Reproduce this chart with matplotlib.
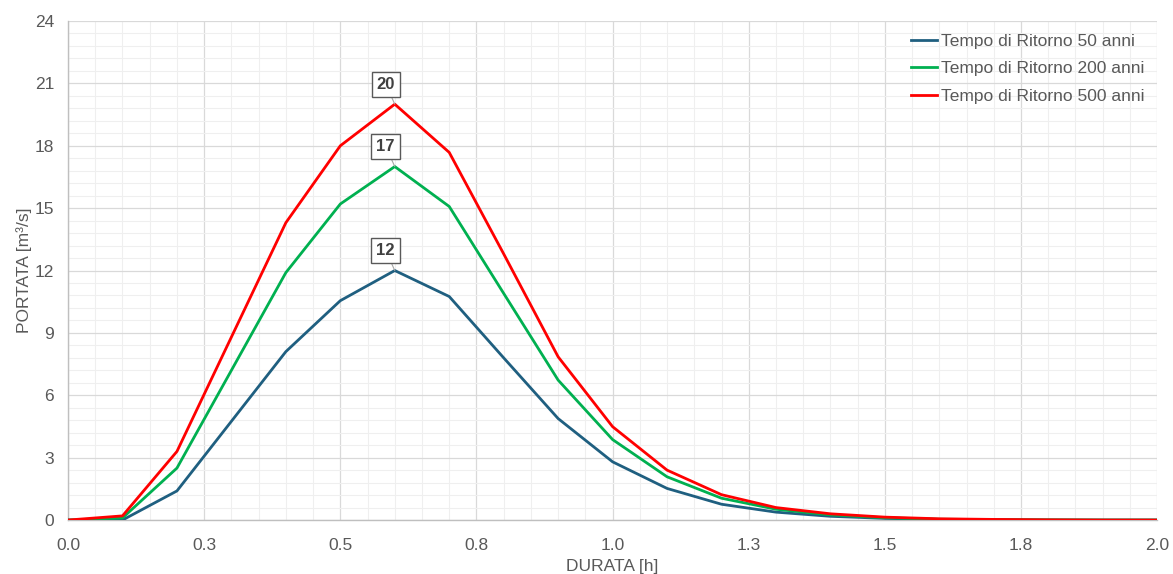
import numpy as np
import matplotlib
matplotlib.use("Agg")
import matplotlib.pyplot as plt
from matplotlib.ticker import MultipleLocator

plt.rcParams['font.family'] = ['Liberation Sans', 'DejaVu Sans']

# DURATA [h]
durata = [0.0, 0.1, 0.2, 0.3, 0.4, 0.5, 0.6, 0.7, 0.8, 0.9, 1.0,
          1.1, 1.2, 1.3, 1.4, 1.5, 1.6, 1.7, 1.8, 1.9, 2.0]

# PORTATA [m3/s] per tempo di ritorno
q_50 = [0.0, 0.0, 1.4, 4.75, 8.1, 10.55, 12.0, 10.75, 7.8, 4.88, 2.8,
        1.52, 0.76, 0.38, 0.18, 0.08, 0.03, 0.01, 0.0, 0.0, 0.0]
q_200 = [0.0, 0.1, 2.5, 7.2, 11.9, 15.2, 17.0, 15.08, 10.9, 6.73, 3.87,
         2.08, 1.05, 0.52, 0.25, 0.11, 0.04, 0.02, 0.01, 0.0, 0.0]
q_500 = [0.0, 0.2, 3.3, 8.8, 14.3, 18.0, 20.0, 17.68, 12.8, 7.85, 4.49,
         2.4, 1.22, 0.6, 0.3, 0.14, 0.06, 0.03, 0.01, 0.0, 0.0]

labels = ["Tempo di Ritorno 50 anni", "Tempo di Ritorno 200 anni",
          "Tempo di Ritorno 500 anni"]
colors = ["#1f5f80", "#00b050", "#ff0000"]

xticks = [0.0, 0.25, 0.5, 0.75, 1.0, 1.25, 1.5, 1.75, 2.0]
xticklabels = ["0.0", "0.3", "0.5", "0.8", "1.0", "1.3", "1.5", "1.8", "2.0"]

txt = "#595959"
fs = 12.5

fig = plt.figure(figsize=(11.73, 5.74), dpi=100)
ax = fig.add_axes([0.058, 0.094, 0.9285, 0.8694])

for q, lab, c in zip([q_50, q_200, q_500], labels, colors):
    ax.plot(durata, q, color=c, lw=2.0, label=lab, zorder=3)

# etichette sul picco
for q in [q_50, q_200, q_500]:
    i = int(np.argmax(q))
    ax.annotate(f"{q[i]:.0f}", xy=(durata[i], q[i]), xytext=(-6.5, 9),
                textcoords="offset points", ha="center", va="bottom",
                fontsize=12, fontweight="bold", color="#404040",
                bbox=dict(boxstyle="square,pad=0.3", fc="white", ec="#595959", lw=1),
                arrowprops=dict(arrowstyle="-", color="#a6a6a6", lw=0.8,
                                shrinkA=0, shrinkB=0),
                zorder=5)

ax.set_xlim(0, 2.0)
ax.set_ylim(0, 24)
ax.set_xticks(xticks)
ax.set_xticklabels(xticklabels)
ax.yaxis.set_major_locator(MultipleLocator(3))
ax.xaxis.set_minor_locator(MultipleLocator(0.05))
ax.yaxis.set_minor_locator(MultipleLocator(0.6))

ax.grid(which="major", color="#d9d9d9", lw=0.9)
ax.grid(which="minor", color="#efefef", lw=0.8)
ax.set_axisbelow(True)

ax.tick_params(which="both", length=0, labelsize=fs, colors=txt)
ax.tick_params(axis="x", pad=13)
ax.tick_params(axis="y", pad=10)
for s in ["top", "right"]:
    ax.spines[s].set_visible(False)
for s in ["left", "bottom"]:
    ax.spines[s].set_color("#bfbfbf")
    ax.spines[s].set_linewidth(1.0)

ax.set_xlabel("DURATA [h]", fontsize=fs, color=txt, labelpad=4)
ax.set_ylabel("PORTATA [m³/s]", fontsize=fs, color=txt, labelpad=2)

leg = ax.legend(loc="upper right", frameon=False, fontsize=fs, handlelength=1.5,
                handletextpad=0.25, labelspacing=0.72, bbox_to_anchor=(1.003, 1.006))
for t in leg.get_texts():
    t.set_color(txt)

fig.savefig("out.png", dpi=100)
